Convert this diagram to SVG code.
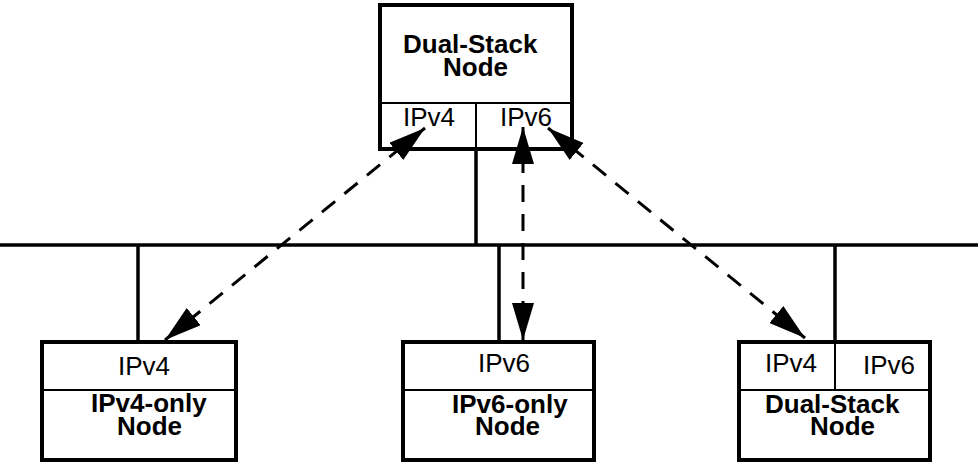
<svg xmlns="http://www.w3.org/2000/svg" width="978" height="462" viewBox="0 0 978 462">
<defs>
<marker id="ah" viewBox="0 0 37 22" refX="37" refY="11" markerWidth="37" markerHeight="22" markerUnits="userSpaceOnUse" orient="auto-start-reverse">
<path d="M0,0 L37,11 L0,22 Z" fill="#000"/>
</marker>
<style>
.box{fill:#fff;stroke:#000;stroke-width:4}
.div{stroke:#000;stroke-width:2;fill:none}
.wire{stroke:#000;stroke-width:3.5;fill:none}
.dash{stroke:#000;stroke-width:3;fill:none;stroke-dasharray:17 12}
.t{font-family:"Liberation Sans",Arial,sans-serif;font-size:26px;fill:#000}
.b{font-family:"Liberation Sans",Arial,sans-serif;font-size:26px;font-weight:bold;fill:#000}
</style>
</defs>
<g id="wires">
<line class="wire" x1="0" y1="245" x2="978" y2="245"/>
<line class="wire" x1="476" y1="149" x2="476" y2="245"/>
<line class="wire" x1="138" y1="245" x2="138" y2="342"/>
<line class="wire" x1="499" y1="245" x2="499" y2="342"/>
<line class="wire" x1="835" y1="245" x2="835" y2="342"/>
</g>
<g id="top-node">
<rect class="box" x="380" y="5" width="192" height="144"/>
<line class="div" x1="380" y1="103" x2="572" y2="103"/>
<line class="div" x1="476" y1="103" x2="476" y2="149"/>
<text class="b" x="403" y="53">Dual-Stack</text>
<text class="b" x="443" y="76">Node</text>
<text class="t" x="403" y="126">IPv4</text>
<text class="t" x="500" y="126">IPv6</text>
</g>
<g id="ipv4-node">
<rect class="box" x="42" y="342" width="194" height="118"/>
<line class="div" x1="42" y1="390" x2="236" y2="390"/>
<text class="t" x="118" y="375">IPv4</text>
<text class="b" x="91" y="412">IPv4-only</text>
<text class="b" x="117" y="435">Node</text>
</g>
<g id="ipv6-node">
<rect class="box" x="403" y="342" width="191" height="118"/>
<line class="div" x1="403" y1="390" x2="594" y2="390"/>
<text class="t" x="478" y="372">IPv6</text>
<text class="b" x="452" y="413">IPv6-only</text>
<text class="b" x="475" y="435">Node</text>
</g>
<g id="dual-node">
<rect class="box" x="739" y="342" width="191" height="118"/>
<line class="div" x1="739" y1="390" x2="930" y2="390"/>
<line class="div" x1="835" y1="342" x2="835" y2="390"/>
<text class="t" x="765" y="372">IPv4</text>
<text class="t" x="863" y="374">IPv6</text>
<text class="b" x="765" y="413">Dual-Stack</text>
<text class="b" x="810" y="435">Node</text>
</g>
<g id="connectors">
<line class="dash" x1="425" y1="128" x2="165" y2="340" marker-start="url(#ah)" marker-end="url(#ah)"/>
<line class="dash" x1="523" y1="127" x2="523" y2="340" marker-start="url(#ah)" marker-end="url(#ah)"/>
<line class="dash" x1="548" y1="128" x2="805" y2="338" marker-start="url(#ah)" marker-end="url(#ah)"/>
</g>
</svg>
